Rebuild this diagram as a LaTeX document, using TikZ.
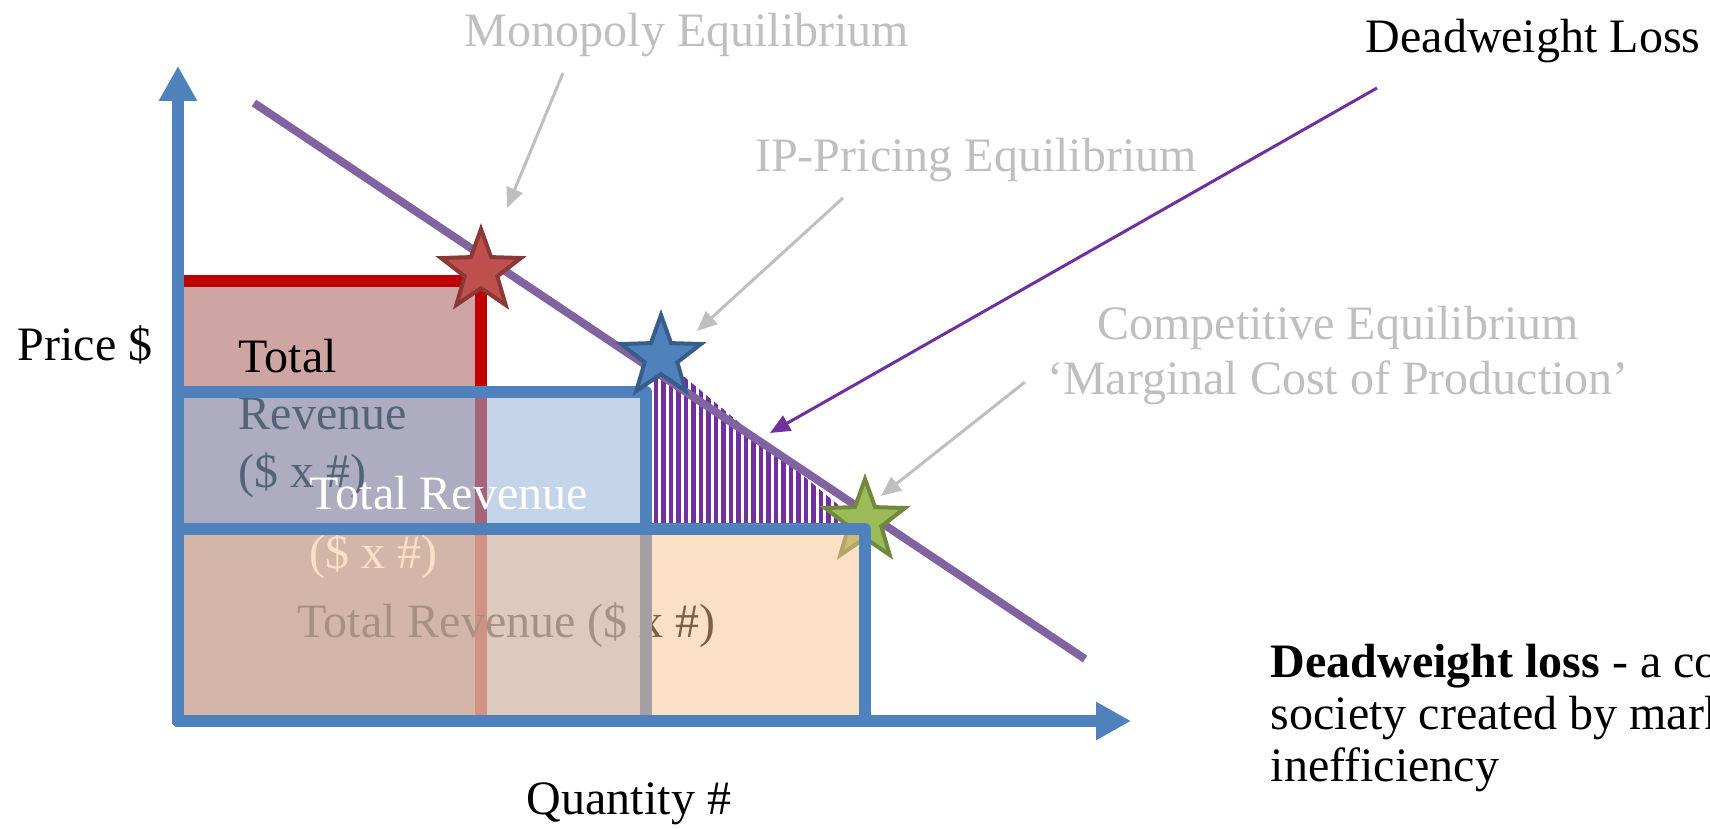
\documentclass[tikz,border=0pt]{standalone}
\usepackage{fontspec}
\setmainfont{Liberation Serif}
\usepackage{xcolor}
\usetikzlibrary{arrows.meta,shapes.geometric}
\definecolor{axisblue}{HTML}{4F81BD}
\definecolor{monored}{HTML}{C00000}
\definecolor{redfill}{HTML}{953735}
\definecolor{bluefill}{HTML}{95B3D7}
\definecolor{orangefill}{HTML}{FAC090}
\definecolor{demandpurple}{HTML}{8064A2}
\definecolor{dwlpurple}{HTML}{7030A0}
\definecolor{labelgray}{HTML}{BFBFBF}
\definecolor{redstar}{HTML}{C0504D}
\definecolor{redstarline}{HTML}{8C3836}
\definecolor{bluestarline}{HTML}{385D8A}
\definecolor{greenstar}{HTML}{9BBB59}
\definecolor{greenstarline}{HTML}{71893F}
\tikzset{
  axis/.style={line width=1.2mm,axisblue,-{Triangle[length=3.5mm,width=3.6mm]}},
  revbox/.style={line width=1.2mm,line join=round},
  eqstar/.style={star,star points=5,star point ratio=2.45,minimum size=8.4mm,inner sep=0pt,line width=0.4mm},
  note/.style={font=\fontsize{13.66}{16.5}\selectfont,inner sep=0pt},
  pointer/.style={line width=0.3mm,labelgray,-{Triangle[length=2mm,width=1.7mm]}},
}

\begin{document}
\begin{tikzpicture}[x=0.1mm,y=-0.1mm,>=Latex]
  \useasboundingbox (0,0) rectangle (1710,829);
  \coordinate (O) at (178,721);
  \coordinate (xend) at (1131,721);
  \coordinate (yend) at (178,66);
  % revenue boxes
  \draw[revbox,monored,fill=redfill,fill opacity=0.45] (178,281) rectangle (481,721);
  \node[note,anchor=base west,align=left] (monorev) at (238,488) {Total\\Revenue\\(\$ x \#)};
  \node[note,anchor=base west] (comprev) at (297,638) {Total Revenue (\$ x \#)};
  \draw[revbox,axisblue,fill=bluefill,fill opacity=0.56] (178,392) rectangle (646,721);
  \node[note,white,anchor=base west,align=left,font=\fontsize{13.66}{17}\selectfont] (iprev) at (309,569) {Total Revenue\\(\$ x \#)};
  % deadweight loss
  \begin{scope}
    \clip (652,350) -- (652,523) -- (860,523) -- cycle;
    \foreach \x in {656,663.5,...,858}
      \draw[dwlpurple,line width=0.42mm] (\x,340) -- (\x,530);
  \end{scope}
  \draw[demandpurple,line width=0.8mm] (254,103) -- (1085,659);
  \node[eqstar,fill=greenstar,draw=greenstarline] (compstar) at (865,521) {};
  \draw[revbox,axisblue,fill=orangefill,fill opacity=0.5] (178,529) rectangle (865,721);
  \node[eqstar,fill=redstar,draw=redstarline] (monostar) at (481,271) {};
  \node[eqstar,fill=axisblue,draw=bluestarline] (ipstar) at (661,357) {};
  \draw[axis] (O) -- (xend);
  \draw[axis] (O) -- (yend);
  % labels
  \node[note,anchor=base west] (price) at (17,361) {Price \$};
  \node[note,anchor=base] (quantity) at (629,815) {Quantity \#};
  \node[note,labelgray,anchor=base] (monolabel) at (687,47) {Monopoly Equilibrium};
  \node[note,labelgray,anchor=base] (iplabel) at (976,172) {IP-Pricing Equilibrium};
  \node[note,labelgray,anchor=base,align=center,font=\fontsize{13.66}{15.8}\selectfont] (complabel) at (1338,395) {Competitive Equilibrium\\`Marginal Cost of Production'};
  \node[note,anchor=base west] (dwllabel) at (1365,53) {Deadweight Loss};
  \node[note,anchor=base west,align=left,font=\fontsize{13.66}{14.9}\selectfont] (dwldef) at (1270,782) {\textbf{Deadweight loss} - a cost to\\society created by market\\inefficiency};
  % pointers
  \coordinate (monotail) at (563,73);
  \coordinate (monotip) at (507,208);
  \coordinate (iptail) at (843,198);
  \coordinate (iptip) at (697,331);
  \coordinate (comptail) at (1025,382);
  \coordinate (comptip) at (881,496);
  \coordinate (dwltail) at (1377,88);
  \coordinate (dwltip) at (770,433);
  \draw[pointer] (monotail) -- (monotip);
  \draw[pointer] (iptail) -- (iptip);
  \draw[pointer] (comptail) -- (comptip);
  \draw[pointer,dwlpurple] (dwltail) -- (dwltip);
\end{tikzpicture}
\end{document}
